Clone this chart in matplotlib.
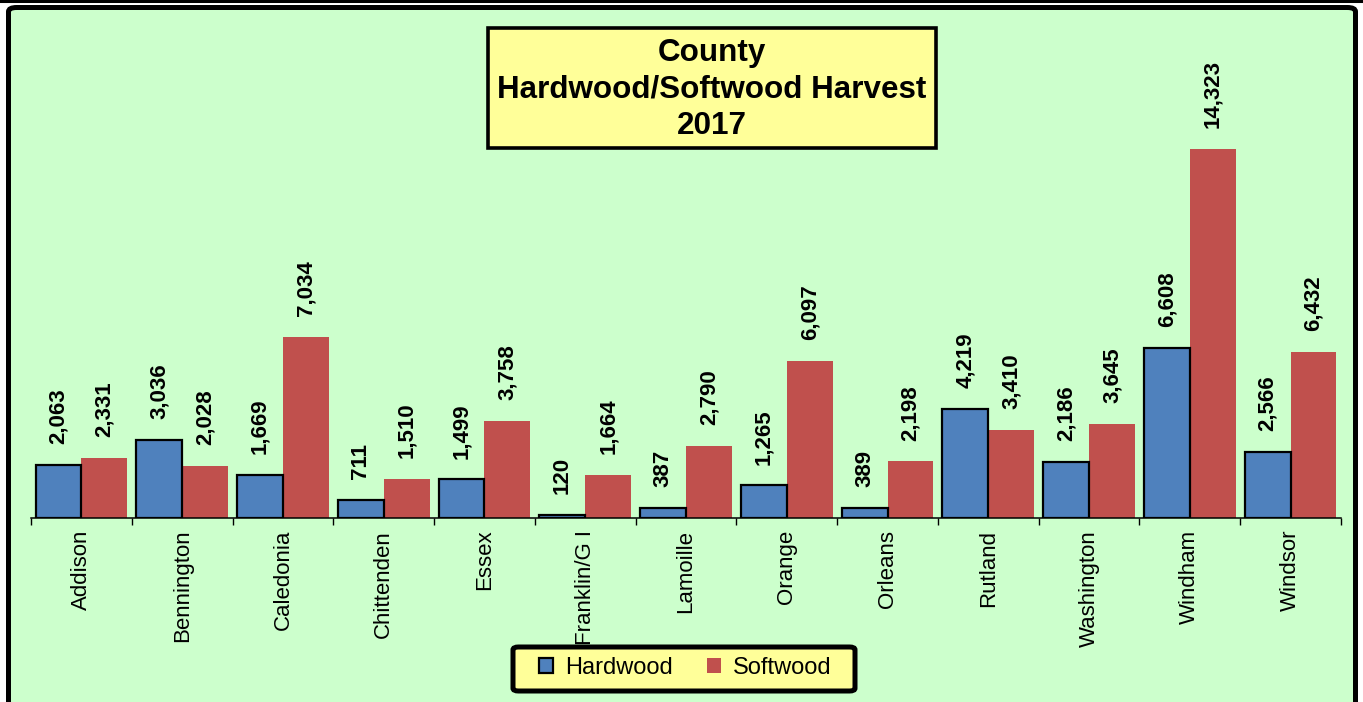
import matplotlib
matplotlib.use("Agg")
import matplotlib.pyplot as plt
from matplotlib.patches import FancyBboxPatch, Rectangle
from matplotlib.lines import Line2D
import numpy as np

counties = ["Addison", "Bennington", "Caledonia", "Chittenden", "Essex", "Franklin/G I",
            "Lamoille", "Orange", "Orleans", "Rutland", "Washington", "Windham", "Windsor"]
hardwood = [2063, 3036, 1669, 711, 1499, 120, 387, 1265, 389, 4219, 2186, 6608, 2566]
softwood = [2331, 2028, 7034, 1510, 3758, 1664, 2790, 6097, 2198, 3410, 3645, 14323, 6432]
title_lines = ["County", "Hardwood/Softwood Harvest", "2017"]
series_names = ["Hardwood", "Softwood"]

plt.rcParams['font.family'] = ['Liberation Sans', 'DejaVu Sans']

W, H = 1363, 702
fig = plt.figure(figsize=(W / 100, H / 100), dpi=100)
fig.patch.set_facecolor("white")

def fx(px):
    return px / W

def fy(py):
    return 1 - py / H

# outer chart frame
frame = FancyBboxPatch((fx(8.5), fy(740)), fx(1355.5) - fx(8.5), fy(7.5) - fy(740),
                       boxstyle="round,pad=0,rounding_size=0.006",
                       transform=fig.transFigure, facecolor="#CCFFCC",
                       edgecolor="black", linewidth=3.6, zorder=-2)
fig.patches.append(frame)
fig.lines.append(Line2D([0, 1], [fy(1), fy(1)], transform=fig.transFigure,
                        color="black", linewidth=2.2, zorder=-1))

# axes
ax_left, ax_right, ax_bottom, ax_top = 31, 1341, 518, 30
ax = fig.add_axes([fx(ax_left), fy(ax_bottom), fx(ax_right) - fx(ax_left), fy(ax_top) - fy(ax_bottom)])
ax.patch.set_alpha(0)
px_per_unit = (518 - 149) / 14323.0
ax.set_ylim(0, (ax_bottom - ax_top) / px_per_unit)
ax.set_xlim(-0.5, len(counties) - 0.5)

x = np.arange(len(counties))
bw = 0.455
b1 = ax.bar(x - bw / 2, hardwood, bw, color="#4F81BD", edgecolor="black", linewidth=1.6,
            label=series_names[0], zorder=3)
b2 = ax.bar(x + bw / 2, softwood, bw, color="#C0504D", edgecolor="none", linewidth=0,
            label=series_names[1], zorder=2)

for bars in (b1, b2):
    ax.bar_label(bars, labels=[f"{v:,}" for v in bars.datavalues], padding=15,
                 rotation=90, fontsize=16, fontweight="bold", color="black")

for s in ["left", "right", "top"]:
    ax.spines[s].set_visible(False)
ax.spines["bottom"].set_linewidth(1.1)
ax.set_yticks([])
ax.set_xticks(x)
ax.set_xticklabels(counties, rotation=90, fontsize=16)
ax.tick_params(axis="x", which="major", length=0, pad=8.5)
ax.set_xticks(np.arange(-0.5, len(counties), 1.0), minor=True)
ax.tick_params(axis="x", which="minor", length=5, width=1.0, direction="out")

# title box
tb = Rectangle((fx(488), fy(148)), fx(936) - fx(488), fy(28) - fy(148),
               transform=fig.transFigure, facecolor="#FFFF99", edgecolor="black",
               linewidth=2.6, zorder=5)
fig.patches.append(tb)
for line, ypx in zip(title_lines, [53, 90, 126]):
    fig.text(fx(712), fy(ypx), line, ha="center", va="center", fontsize=22.6,
             fontweight="bold", zorder=6)

# legend box
lb = FancyBboxPatch((fx(513), fy(691)), fx(855) - fx(513), fy(647) - fy(691),
                    boxstyle="round,pad=0,rounding_size=0.004",
                    transform=fig.transFigure, facecolor="#FFFF99", edgecolor="black",
                    linewidth=3.6, zorder=5)
fig.patches.append(lb)
leg = fig.legend(handles=[b1, b2], labels=series_names, loc="center",
                 bbox_to_anchor=(fx(685), fy(668)), ncol=2, fontsize=17,
                 frameon=False, handlelength=0.6, handleheight=0.6, handletextpad=0.5,
                 columnspacing=1.45, borderpad=0.2, borderaxespad=0)
leg.set_zorder(6)

fig.savefig("out.png", dpi=100)
